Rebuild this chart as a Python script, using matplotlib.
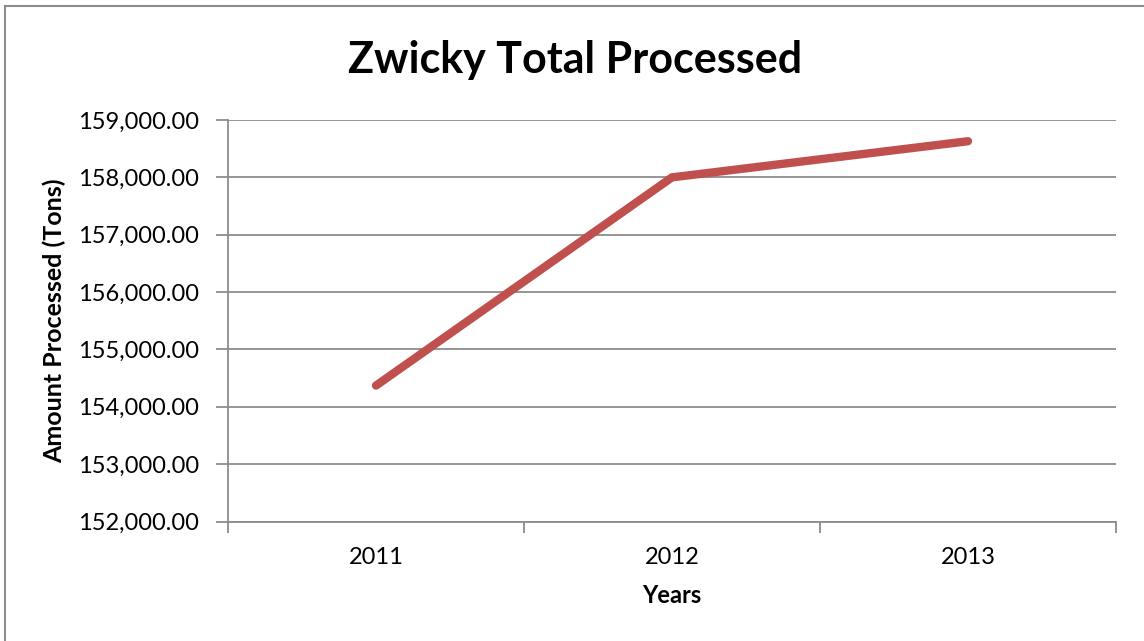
import matplotlib.pyplot as plt
import numpy as np
from matplotlib.patches import Rectangle
from matplotlib.ticker import FuncFormatter

years = ['2011', '2012', '2013']
processed = [154370, 158000, 158630]

plt.rcParams['font.family'] = ['Lato', 'DejaVu Sans']

fig = plt.figure(figsize=(11.44, 6.41), dpi=100)
ax = fig.add_axes([228 / 1144, 1 - 521.5 / 641, (1116 - 228) / 1144, (521.5 - 120) / 641])

# chart border (only left and top visible in the picture)
fig.patches.append(Rectangle((5 / 1144, -0.1), 1.2, 1 - 6 / 641 + 0.1,
                             transform=fig.transFigure, fill=False,
                             edgecolor='#8c8c8c', linewidth=1.5))

x = np.arange(len(years))
ax.plot(x, processed, color='#C0504D', linewidth=6, solid_capstyle='round',
        solid_joinstyle='miter', zorder=3)

ax.set_xlim(-0.5, len(years) - 0.5)
ax.set_ylim(152000, 159000)
ax.set_yticks(np.arange(152000, 159001, 1000))
ax.yaxis.set_major_formatter(FuncFormatter(lambda v, p: f"{v:,.2f}"))
ax.set_xticks(x)
ax.set_xticklabels(years)
ax.set_xticks(np.arange(-0.5, len(years), 1), minor=True)

ax.grid(axis='y', color='#8c8c8c', linewidth=1.3)
ax.set_axisbelow(True)
for s in ['top', 'right']:
    ax.spines[s].set_visible(False)
for s in ['left', 'bottom']:
    ax.spines[s].set_color('#8c8c8c')
    ax.spines[s].set_linewidth(1.3)

ax.tick_params(axis='y', length=9, width=1.3, color='#8c8c8c', labelsize=17, pad=12)
ax.tick_params(axis='x', which='major', length=0, labelsize=17, pad=18)
ax.tick_params(axis='x', which='minor', length=8, width=1.3, color='#8c8c8c')

ax.set_xlabel('Years', fontsize=17, fontweight='bold', labelpad=12)
ax.set_ylabel('Amount Processed (Tons)', fontsize=18, fontweight='bold', labelpad=8)
fig.text(575 / 1144, 1 - 60 / 641, 'Zwicky Total Processed', fontsize=31,
         fontweight='bold', ha='center', va='center')

fig.savefig('out.png', dpi=100)
